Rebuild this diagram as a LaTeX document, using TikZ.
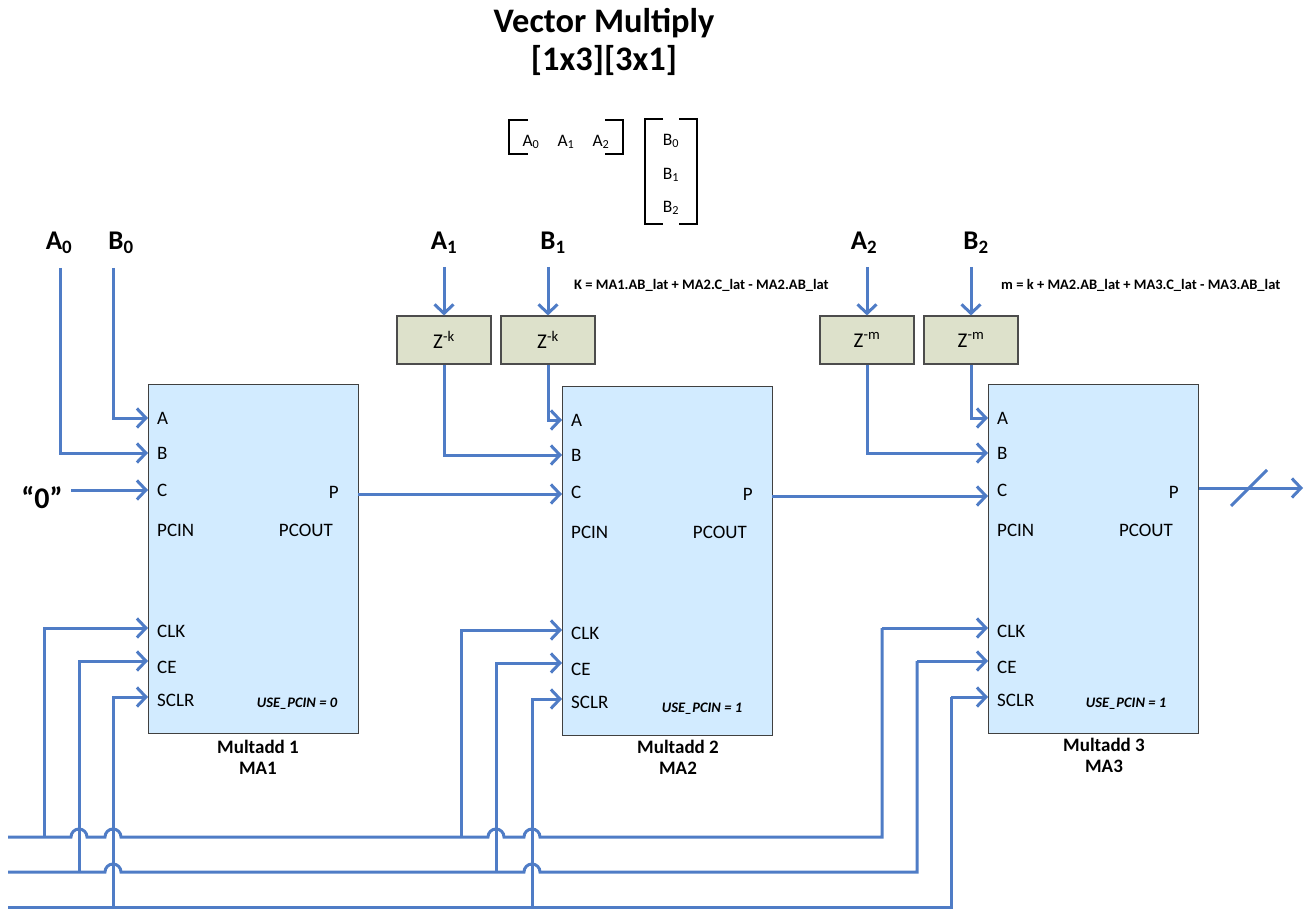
\documentclass[tikz,border=0pt]{standalone}
\usepackage{fontspec}
\setmainfont{Carlito}
\usetikzlibrary{arrows.meta}
\definecolor{wireblue}{HTML}{4F7CC6}
\definecolor{mafill}{HTML}{D2EBFF}
\definecolor{zfill}{HTML}{DDE1CB}
\tikzset{
  wire/.style={draw=wireblue,line width=3pt},
  arrowwire/.style={wire,-{Straight Barb[length=9pt,width=19pt,line width=3pt]}},
  mabox/.style={draw=black!75,fill=mafill,line width=1.3pt,minimum width=210pt,minimum height=349pt,inner sep=0pt},
  zbox/.style={draw=black!70,fill=zfill,line width=1.1pt,minimum width=94pt,minimum height=48pt,inner sep=0pt,font=\fontsize{21}{21}\selectfont},
  port/.style={anchor=west,inner sep=0pt,font=\fontsize{19}{19}\selectfont},
  bigsig/.style={inner sep=0pt,font=\bfseries\fontsize{27}{27}\selectfont},
  matsig/.style={inner sep=0pt,font=\fontsize{17.5}{17.5}\selectfont},
  bracket/.style={draw=black,line width=2.6pt},
  note/.style={inner sep=0pt,font=\bfseries\fontsize{14.5}{15}\selectfont},
}
\begin{document}
\begin{tikzpicture}[x=1pt,y=-1pt]
  \useasboundingbox (0,0) rectangle (1304,909);
  % title
  \node[align=center,inner sep=0pt,font=\bfseries\fontsize{34.4}{38}\selectfont] (title) at (604,42) {Vector Multiply\\{[}1x3{]}[3x1]};
  % matrices
  \node[matsig] (ma0) at (531,142) {A\textsubscript{0}};
  \node[matsig] (ma1) at (566,142) {A\textsubscript{1}};
  \node[matsig] (ma2) at (601,142) {A\textsubscript{2}};
  \node[matsig] (mb0) at (671,141) {B\textsubscript{0}};
  \node[matsig] (mb1) at (671,175) {B\textsubscript{1}};
  \node[matsig] (mb2) at (671,208) {B\textsubscript{2}};
  \draw[bracket] (528,120) -- (509,120) -- (509,154) -- (528,154);
  \draw[bracket] (605,120) -- (623,120) -- (623,154) -- (605,154);
  \draw[bracket] (663,119) -- (645,119) -- (645,224) -- (663,224);
  \draw[bracket] (679,119) -- (697,119) -- (697,224) -- (679,224);
  % multadd blocks
  \foreach \n/\x/\y/\u/\ux/\uy/\lx/\ly in {1/148/384/0/297/704/258/757,2/562/386/1/702/709/678/757,3/988/384/1/1126/704/1104/755} {
    \node[mabox,anchor=north west] (block\n) at (\x,\y) {};
    \node[port] (portA\n) at (\x+9,\y+34) {A};
    \node[port] (portB\n) at (\x+9,\y+69) {B};
    \node[port] (portC\n) at (\x+9,\y+106) {C};
    \node[port] (portPCIN\n) at (\x+9,\y+146) {PCIN};
    \node[port] (portCLK\n) at (\x+9,\y+247) {CLK};
    \node[port] (portCE\n) at (\x+9,\y+283) {CE};
    \node[port] (portSCLR\n) at (\x+9,\y+316) {SCLR};
    \node[port,anchor=east] (portP\n) at (\x+191,\y+108) {P};
    \node[port,anchor=east] (portPCOUT\n) at (\x+185,\y+146) {PCOUT};
    \node[inner sep=0pt,font=\bfseries\itshape\fontsize{14.5}{15}\selectfont] (use\n) at (\ux,\uy) {USE\_PCIN = \u};
    \node[align=center,inner sep=0pt,font=\bfseries\fontsize{19}{21}\selectfont] (name\n) at (\lx,\ly) {Multadd \n\\MA\n};
    \coordinate (inA\n) at (\x,\y+34);
    \coordinate (inB\n) at (\x,\y+69);
    \coordinate (inC\n) at (\x,\y+106);
    \coordinate (inCLK\n) at (\x,\y+244);
    \coordinate (inCE\n) at (\x,\y+277);
    \coordinate (inSCLR\n) at (\x,\y+313);
    \coordinate (outP\n) at (\x+210,\y+110);
  }
  % delay boxes
  \node[zbox] (z1) at (444,340) {Z\textsuperscript{-k}};
  \node[zbox] (z2) at (548,340) {Z\textsuperscript{-k}};
  \node[zbox] (z3) at (867,340) {Z\textsuperscript{-m}};
  \node[zbox] (z4) at (971,340) {Z\textsuperscript{-m}};
  % signal names
  \node[bigsig] (sigA0) at (59,243) {A\textsubscript{0}};
  \node[bigsig] (sigB0) at (121,243) {B\textsubscript{0}};
  \node[bigsig] (sigA1) at (444,243) {A\textsubscript{1}};
  \node[bigsig] (sigB1) at (553,243) {B\textsubscript{1}};
  \node[bigsig] (sigA2) at (864,243) {A\textsubscript{2}};
  \node[bigsig] (sigB2) at (976,243) {B\textsubscript{2}};
  \node[bigsig,font=\bfseries\fontsize{30}{30}\selectfont] (zero) at (42,498) {“0”};
  \node[note,anchor=west] (noteK) at (574,285) {K = MA1.AB\_lat + MA2.C\_lat - MA2.AB\_lat};
  \node[note,anchor=west] (noteM) at (1001,285) {m = k + MA2.AB\_lat + MA3.C\_lat - MA3.AB\_lat};
  % free ends
  \coordinate (startA0) at (60,268);
  \coordinate (startB0) at (113,268);
  \coordinate (startA1) at (444,267);
  \coordinate (startB1) at (548,267);
  \coordinate (startA2) at (867,267);
  \coordinate (startB2) at (971,267);
  \coordinate (startC) at (71,490);
  \coordinate (endP) at (1303,488);
  \coordinate (slashA) at (1231,506);
  \coordinate (slashB) at (1267,470);
  % inputs
  \draw[arrowwire] (startA0) |- (inB1);
  \draw[arrowwire] (startB0) |- (inA1);
  \draw[arrowwire] (startC) -- (inC1);
  \draw[arrowwire] (startA1) -- (z1.north);
  \draw[arrowwire] (startB1) -- (z2.north);
  \draw[arrowwire] (startA2) -- (z3.north);
  \draw[arrowwire] (startB2) -- (z4.north);
  \draw[arrowwire] (z1.south) |- (inB2);
  \draw[arrowwire] (z2.south) |- (inA2);
  \draw[arrowwire] (z3.south) |- (inB3);
  \draw[arrowwire] (z4.south) |- (inA3);
  % cascades
  \draw[arrowwire] (outP1) -- (outP1 -| inC2);
  \draw[arrowwire] (outP2) -- (outP2 -| inC3);
  \draw[arrowwire] (block3.east |- endP) -- (endP);
  \draw[wire] (slashA) -- (slashB);
  % buses
  \coordinate (busCLK) at (8,837);
  \coordinate (busCE) at (8,872);
  \coordinate (busSCLR) at (8,907);
  \draw[wire] (busCLK) -- (71,837) arc[start angle=180,end angle=360,radius=8]
    -- (105,837) arc[start angle=180,end angle=360,radius=8]
    -- (488,837) arc[start angle=180,end angle=360,radius=8]
    -- (524,837) arc[start angle=180,end angle=360,radius=8]
    -- (882,837) -- (882,837 |- inCLK3) coordinate (turnCLK);
  \draw[arrowwire] (turnCLK) -- (inCLK3);
  \draw[wire] (busCE) -- (105,872) arc[start angle=180,end angle=360,radius=8]
    -- (524,872) arc[start angle=180,end angle=360,radius=8]
    -- (917,872) -- (917,872 |- inCE3) coordinate (turnCE);
  \draw[arrowwire] (turnCE) -- (inCE3);
  \draw[wire] (busSCLR) -- (951,907) -- (951,907 |- inSCLR3) coordinate (turnSCLR);
  \draw[arrowwire] (turnSCLR) -- (inSCLR3);
  % taps
  \foreach \n/\p/\q/\r in {1/44/79/113,2/461/496/532} {
    \draw[arrowwire] (\p,837) |- (inCLK\n);
    \draw[arrowwire] (\q,872) |- (inCE\n);
    \draw[arrowwire] (\r,907) |- (inSCLR\n);
  }
\end{tikzpicture}
\end{document}
